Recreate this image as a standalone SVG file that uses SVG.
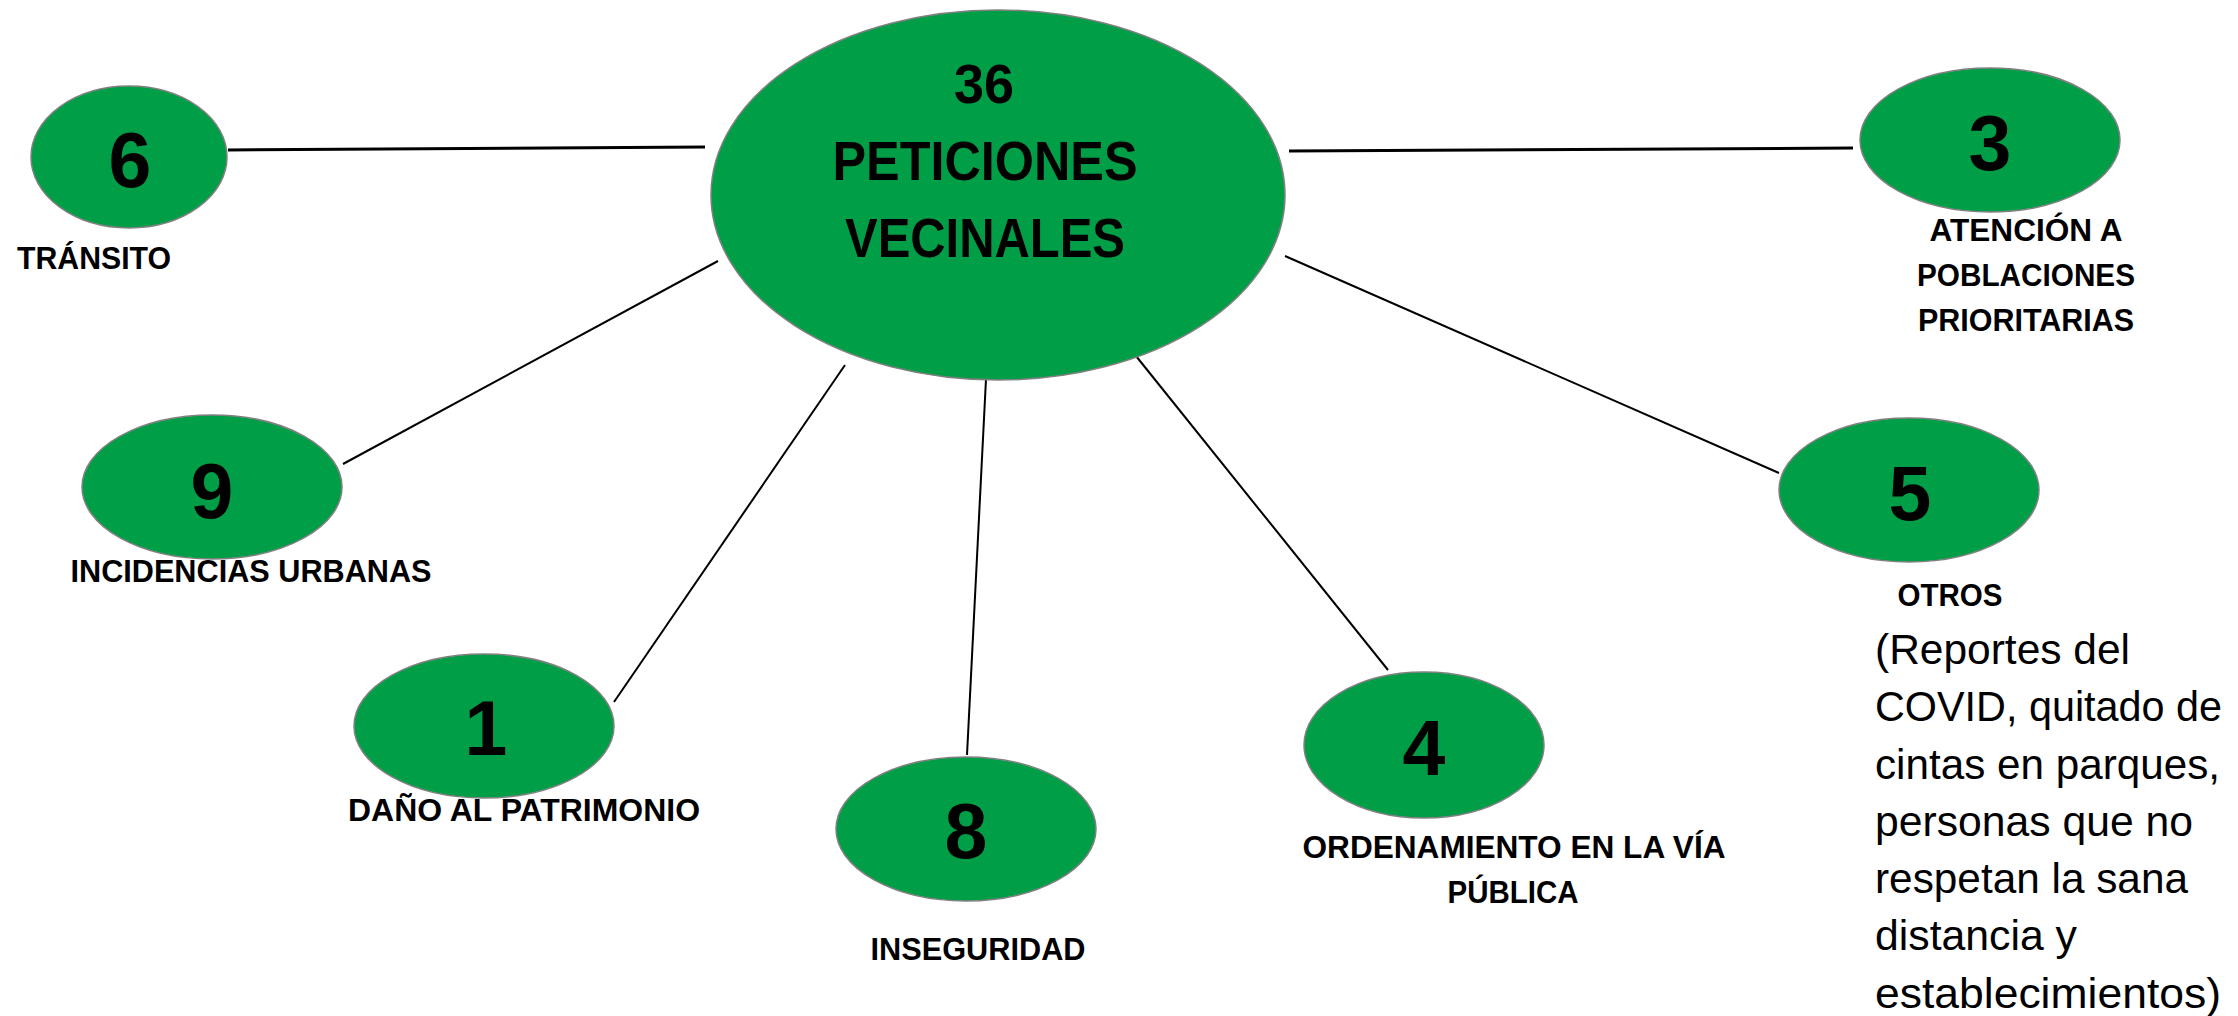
<svg xmlns="http://www.w3.org/2000/svg" width="2238" height="1016" viewBox="0 0 2238 1016">
<style>
.node ellipse{fill:#009E47;stroke:#808080;stroke-width:1.5}
.num{font-family:"Liberation Sans",Arial,sans-serif;font-weight:bold;font-size:77px;fill:#000;text-anchor:middle}
.big{font-family:"Liberation Sans",Arial,sans-serif;font-weight:bold;font-size:56px;fill:#000;text-anchor:middle}
.lbl{font-family:"Liberation Sans",Arial,sans-serif;font-weight:bold;font-size:31px;fill:#000;text-anchor:middle}
.para{font-family:"Liberation Sans",Arial,sans-serif;font-size:43px;fill:#000}
.conn line{stroke:#000;stroke-width:2}
.conn line.thick{stroke-width:3}
</style>
<rect width="2238" height="1016" fill="#fff"/>
<g id="connectors" class="conn">
<line class="thick" x1="228" y1="150" x2="705" y2="147"/>
<line class="thick" x1="1289" y1="151" x2="1853" y2="148"/>
<line x1="343" y1="464" x2="718" y2="261"/>
<line x1="614" y1="702" x2="845" y2="365"/>
<line x1="967" y1="755" x2="986" y2="379"/>
<line x1="1388" y1="670" x2="1136" y2="356"/>
<line x1="1779" y1="473" x2="1285" y2="256"/>
</g>
<g id="center" class="node">
<ellipse cx="998" cy="195" rx="287" ry="185"/>
<text class="big" x="984" y="103" textLength="60" lengthAdjust="spacingAndGlyphs">36</text>
<text class="big" x="985" y="180" textLength="305" lengthAdjust="spacingAndGlyphs">PETICIONES</text>
<text class="big" x="985" y="257" textLength="280" lengthAdjust="spacingAndGlyphs">VECINALES</text>
</g>
<g id="n6" class="node">
<ellipse cx="129" cy="157" rx="98" ry="71"/>
<text class="num" x="130" y="187">6</text>
<text class="lbl" x="94" y="269" textLength="154" lengthAdjust="spacingAndGlyphs">TRÁNSITO</text>
</g>
<g id="n3" class="node">
<ellipse cx="1990" cy="140" rx="130" ry="72"/>
<text class="num" x="1990" y="170">3</text>
<text class="lbl" x="2026" y="241" textLength="193" lengthAdjust="spacingAndGlyphs">ATENCIÓN A</text>
<text class="lbl" x="2026" y="286" textLength="218" lengthAdjust="spacingAndGlyphs">POBLACIONES</text>
<text class="lbl" x="2026" y="331" textLength="216" lengthAdjust="spacingAndGlyphs">PRIORITARIAS</text>
</g>
<g id="n9" class="node">
<ellipse cx="212" cy="487" rx="130" ry="72"/>
<text class="num" x="212" y="518">9</text>
<text class="lbl" x="251" y="582" textLength="361" lengthAdjust="spacingAndGlyphs">INCIDENCIAS URBANAS</text>
</g>
<g id="n1" class="node">
<ellipse cx="484" cy="726" rx="130" ry="72"/>
<text class="num" x="486" y="755">1</text>
<text class="lbl" x="524" y="821" textLength="352" lengthAdjust="spacingAndGlyphs">DAÑO AL PATRIMONIO</text>
</g>
<g id="n8" class="node">
<ellipse cx="966" cy="829" rx="130" ry="72"/>
<text class="num" x="966" y="858">8</text>
<text class="lbl" x="978" y="960" textLength="215" lengthAdjust="spacingAndGlyphs">INSEGURIDAD</text>
</g>
<g id="n4" class="node">
<ellipse cx="1424" cy="745" rx="120" ry="73"/>
<text class="num" x="1424" y="775">4</text>
<text class="lbl" x="1514" y="858" textLength="423" lengthAdjust="spacingAndGlyphs">ORDENAMIENTO EN LA VÍA</text>
<text class="lbl" x="1513" y="903" textLength="131" lengthAdjust="spacingAndGlyphs">PÚBLICA</text>
</g>
<g id="n5" class="node">
<ellipse cx="1909" cy="490" rx="130" ry="72"/>
<text class="num" x="1910" y="520">5</text>
<text class="lbl" x="1950" y="606" textLength="105" lengthAdjust="spacingAndGlyphs">OTROS</text>
<text class="para" x="1875" y="664" textLength="255" lengthAdjust="spacingAndGlyphs">(Reportes del</text>
<text class="para" x="1875" y="721" textLength="347" lengthAdjust="spacingAndGlyphs">COVID, quitado de</text>
<text class="para" x="1875" y="779" textLength="345" lengthAdjust="spacingAndGlyphs">cintas en parques,</text>
<text class="para" x="1875" y="836" textLength="318" lengthAdjust="spacingAndGlyphs">personas que no</text>
<text class="para" x="1875" y="893" textLength="313" lengthAdjust="spacingAndGlyphs">respetan la sana</text>
<text class="para" x="1875" y="950" textLength="202" lengthAdjust="spacingAndGlyphs">distancia y</text>
<text class="para" x="1875" y="1008" textLength="346" lengthAdjust="spacingAndGlyphs">establecimientos)</text>
</g>
</svg>
